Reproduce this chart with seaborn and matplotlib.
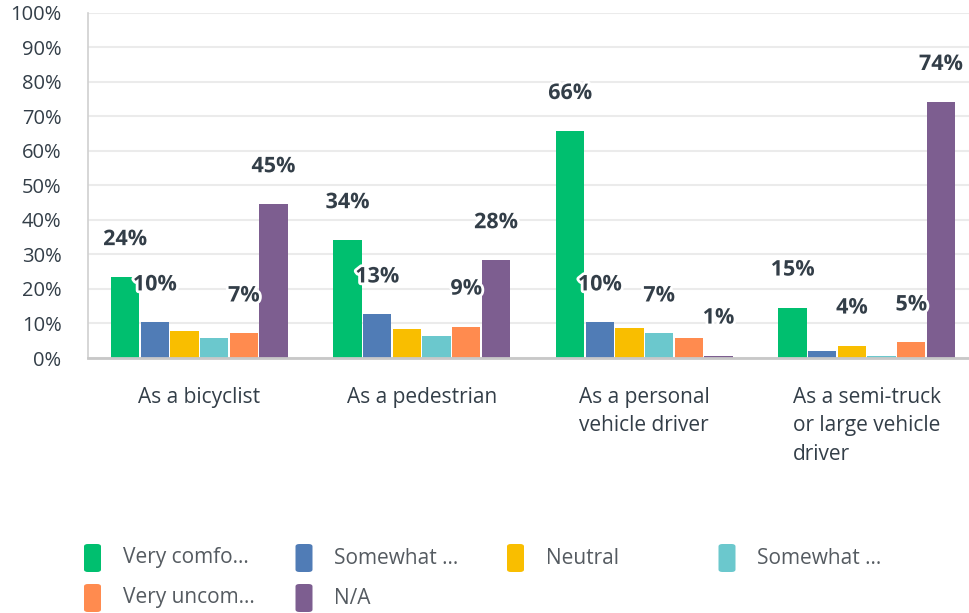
import matplotlib
matplotlib.use("Agg")
import matplotlib.pyplot as plt
import matplotlib.patheffects as pe
from matplotlib.patches import FancyBboxPatch
import numpy as np
import pandas as pd
import seaborn as sns

# ---- data ----
categories = [
    "As a bicyclist",
    "As a pedestrian",
    "As a personal\nvehicle driver",
    "As a semi-truck\nor large vehicle\ndriver",
]
responses = ["Very comfo...", "Somewhat ...", "Neutral", "Somewhat ... ", "Very uncom...", "N/A"]
colors = ["#00BF6F", "#507CB6", "#F9BE00", "#6BC8CD", "#FF8B4F", "#7D5E90"]

very_comfortable = [23.4, 34.1, 65.7, 14.6]
somewhat_comfortable = [10.3, 12.6, 10.3, 1.9]
neutral = [7.7, 8.3, 8.6, 3.6]
somewhat_uncomfortable = [5.9, 6.5, 7.1, 0.7]
very_uncomfortable = [7.1, 9.1, 5.9, 4.5]
not_applicable = [44.5, 28.3, 0.7, 74.1]

# value labels that the chart actually shows (None = hidden because of overlap)
shown_labels = [
    ["24%", "34%", "66%", "15%"],
    ["10%", "13%", "10%", None],
    [None, None, None, "4%"],
    [None, None, "7%", None],
    ["7%", "9%", None, "5%"],
    ["45%", "28%", "1%", "74%"],
]

series = [very_comfortable, somewhat_comfortable, neutral,
          somewhat_uncomfortable, very_uncomfortable, not_applicable]

rows = []
for resp, vals in zip(responses, series):
    for cat, v in zip(categories, vals):
        rows.append({"category": cat, "response": resp, "value": v})
df = pd.DataFrame(rows)

# ---- styling ----
sns.set_style("white")
plt.rcParams["font.family"] = ["Open Sans", "DejaVu Sans"]
text_color = "#333E48"

fig = plt.figure(figsize=(9.7, 6.13), dpi=100)
ax = fig.add_axes([88 / 970, 1 - 358 / 613, (978 - 88) / 970, (358 - 12.5) / 613])

sns.barplot(
    data=df, x="category", y="value", hue="response",
    hue_order=responses, order=categories,
    palette=colors, saturation=1, width=0.8, gap=0.05,
    linewidth=0, legend=False, ax=ax,
)

ax.set_ylim(0, 100)
ax.set_xlim(-0.5, 3.5)
ax.set_yticks(range(0, 101, 10))
ax.set_yticklabels([f"{v}%" for v in range(0, 101, 10)])
ax.set_xlabel("")
ax.set_ylabel("")
ax.yaxis.grid(True, color="#EBEBEB", linewidth=1.5)
ax.set_axisbelow(True)
ax.tick_params(axis="y", length=0, pad=19, labelsize=14.5, labelcolor=text_color)
ax.tick_params(axis="x", length=0, pad=21, labelsize=15, labelcolor=text_color)
for lbl in ax.get_xticklabels():
    lbl.set_multialignment("left")
    lbl.set_linespacing(1.45)
    lbl.set_verticalalignment("top")

for side in ["top", "right"]:
    ax.spines[side].set_visible(False)
ax.spines["left"].set_color("#D0D0D0")
ax.spines["left"].set_linewidth(1.2)
ax.spines["bottom"].set_color("#C8C8C8")
ax.spines["bottom"].set_linewidth(2)

# value labels above bars
for container, labels in zip(ax.containers, shown_labels):
    for bar, text in zip(container, labels):
        if text is None:
            continue
        ax.annotate(
            text,
            (bar.get_x() + bar.get_width() / 2, bar.get_height()),
            xytext=(0, 27), textcoords="offset points",
            ha="center", va="center", fontsize=15.5, fontweight="bold",
            color=text_color,
            path_effects=[pe.withStroke(linewidth=4, foreground="white")],
        )

# legend drawn as a fixed grid like the original
for i, (name, col) in enumerate(zip(responses, colors)):
    r, c = divmod(i, 4)
    x0 = (84 + c * 211.5) / 970
    y0 = 1 - (572 + r * 40) / 613
    fig.patches.append(FancyBboxPatch(
        (x0, y0), 17 / 970, 28 / 613,
        boxstyle="round,pad=0,rounding_size=0.004",
        transform=fig.transFigure, facecolor=col, edgecolor="none",
    ))
    fig.text(x0 + 39 / 970, y0 + 14 / 613, name.strip(), fontsize=15,
             color="#555B61", va="center", ha="left")

fig.savefig("out.png", dpi=100)
